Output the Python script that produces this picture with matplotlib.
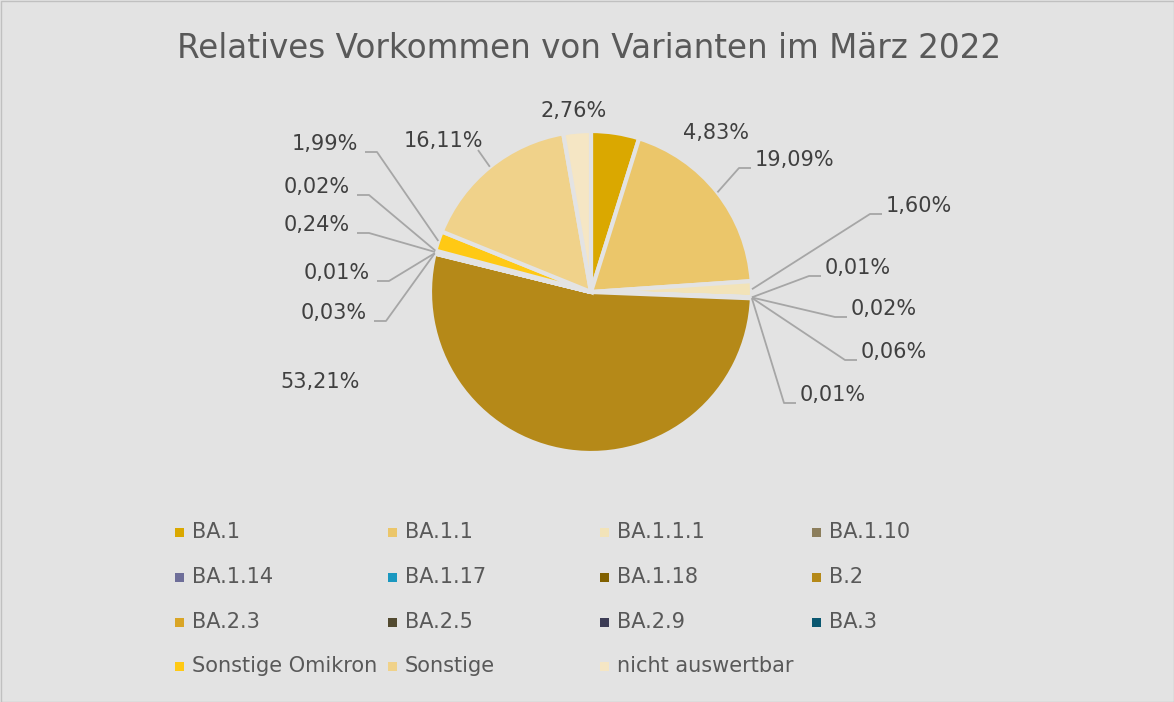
import matplotlib.pyplot as plt
from matplotlib.patches import Rectangle
import numpy as np

# chart data
varianten = ['BA.1', 'BA.1.1', 'BA.1.1.1', 'BA.1.10', 'BA.1.14', 'BA.1.17', 'BA.1.18', 'B.2',
             'BA.2.3', 'BA.2.5', 'BA.2.9', 'BA.3', 'Sonstige Omikron', 'Sonstige', 'nicht auswertbar']
anteile = [4.83, 19.09, 1.60, 0.01, 0.02, 0.06, 0.01, 53.21,
           0.03, 0.01, 0.24, 0.02, 1.99, 16.11, 2.76]
farben = ['#daa800', '#ebc66a', '#f2e3b8', '#8c7e5c', '#6e6e99', '#1a98c0', '#806000', '#b58918',
          '#d9a526', '#524a30', '#3c3c55', '#0a5770', '#ffc914', '#f0d28a', '#f5e6c4']
titel = 'Relatives Vorkommen von Varianten im März 2022'

W, H = 1174, 702
bg = '#e3e3e3'
txt_col = '#404040'
line_col = '#a6a6a6'

fig = plt.figure(figsize=(W / 100, H / 100), dpi=100, facecolor=bg)
ax = fig.add_axes([0, 0, 1, 1])
ax.set_facecolor(bg)

def Y(y):
    # pixel row from top -> data y
    return H - y

cx, cy, r = 591, 292, 161

wedges, _ = ax.pie(anteile, colors=farben, startangle=90, counterclock=False,
                   center=(cx, Y(cy)), radius=r, frame=True,
                   wedgeprops=dict(edgecolor=bg, linewidth=3))
ax.set_xlim(0, W)
ax.set_ylim(0, H)
ax.set_aspect('equal')
ax.axis('off')

# label layout: (x, y_center, alignment, leader?)
layout = [
    (716, 133, 'c', False),
    (755, 160, 'l', True),
    (886, 206, 'l', True),
    (825, 268, 'l', True),
    (851, 309, 'l', True),
    (861, 352, 'l', True),
    (800, 395, 'l', True),
    (320, 382, 'c', False),
    (367, 313, 'r', True),
    (370, 273, 'r', True),
    (350, 225, 'r', True),
    (350, 187, 'r', True),
    (358, 144, 'r', True),
    (443, 141, 'c', True),
    (574, 111, 'c', False),
]

cum = np.cumsum([0] + anteile[:-1])
total = sum(anteile)
for val, c0, (lx, ly, side, leader) in zip(anteile, cum, layout):
    lab = f'{val:.2f}%'.replace('.', ',')
    ha = {'l': 'left', 'r': 'right', 'c': 'center'}[side]
    ax.text(lx, Y(ly), lab, ha=ha, va='center', fontsize=15, color=txt_col)
    if not leader:
        continue
    theta = np.deg2rad((c0 + val / 2) / total * 360)
    px, py = cx + r * np.sin(theta), cy - r * np.cos(theta)
    yl = ly + 8
    if side == 'l':
        xs = [px, lx - 16, lx - 4]
        ys = [py, yl, yl]
    elif side == 'r':
        xs = [px, lx + 19, lx + 7]
        ys = [py, yl, yl]
    else:
        xs = [px, lx + 35]
        ys = [py, ly + 9]
    ax.plot(xs, [Y(v) for v in ys], color=line_col, lw=1.3, solid_capstyle='butt')

ax.text(589, Y(48), titel, ha='center', va='center', fontsize=23.5, color='#595959')

# legend
col_x = [175, 388, 600, 812]
row_y = [532, 577, 622, 666]
for i, (name, col) in enumerate(zip(varianten, farben)):
    x = col_x[i % 4]
    y = row_y[i // 4]
    ax.add_patch(Rectangle((x, Y(y) - 4.5), 9, 9, facecolor=col, edgecolor='none'))
    ax.text(x + 17, Y(y), name, ha='left', va='center', fontsize=15, color='#595959')

# outer border
ax.add_patch(Rectangle((0.5, 0.5), W - 1, H - 1, facecolor='none', edgecolor='#c0c0c0', lw=1))

fig.savefig('out.png', dpi=100, facecolor=bg)
